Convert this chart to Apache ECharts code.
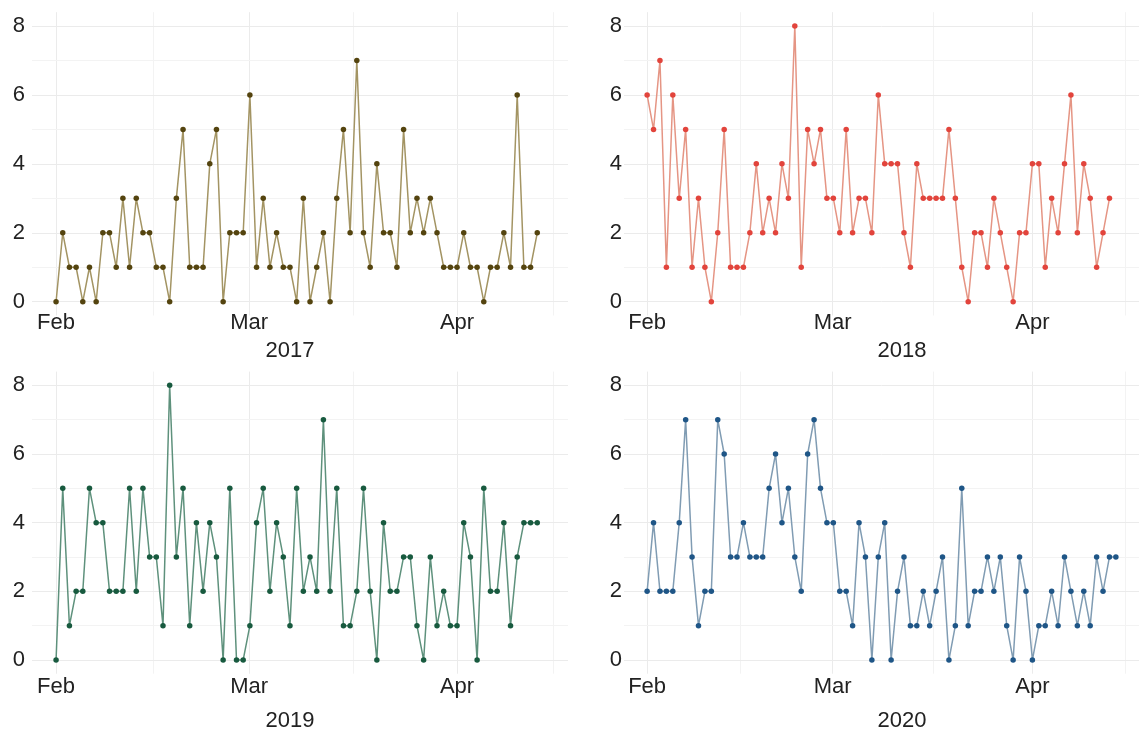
<!DOCTYPE html>
<html>
<head>
<meta charset="utf-8">
<script src="https://cdn.jsdelivr.net/npm/echarts@6/dist/echarts.min.js"></script>
<style>
html,body{margin:0;padding:0;background:#fff;}
#chart{width:1139px;height:731px;}
</style>
</head>
<body>
<div id="chart"></div>
<script>
// ---- data ----
const years = ['2017', '2018', '2019', '2020'];
const monthLabels = ['Feb', 'Mar', 'Apr'];
const monthPos = [0, 28.9, 60];
const minorPos = [14.5, 44.5, 74.4];
const yTickLabels = [0, 2, 4, 6, 8];
const yGridValues = [0, 1, 2, 3, 4, 5, 6, 7, 8];

const values2017 = [0,2,1,1,0,1,0,2,2,1, 3,1,3,2,2,1,1,0,3,5, 1,1,1,4,5,0,2,2,2,6, 1,3,1,2,1,1,0,3,0,1, 2,0,3,5,2,7,2,1,4,2, 2,1,5,2,3,2,3,2,1,1, 1,2,1,1,0,1,1,2,1,6, 1,1,2];
const values2018 = [6,5,7,1,6,3,5,1,3,1, 0,2,5,1,1,1,2,4,2,3, 2,4,3,8,1,5,4,5,3,3, 2,5,2,3,3,2,6,4,4,4, 2,1,4,3,3,3,3,5,3,1, 0,2,2,1,3,2,1,0,2,2, 4,4,1,3,2,4,6,2,4,3, 1,2,3];
const values2019 = [0,5,1,2,2,5,4,4,2,2, 2,5,2,5,3,3,1,8,3,5, 1,4,2,4,3,0,5,0,0,1, 4,5,2,4,3,1,5,2,3,2, 7,2,5,1,1,2,5,2,0,4, 2,2,3,3,1,0,3,1,2,1, 1,4,3,0,5,2,2,4,1,3, 4,4,4];
const values2020 = [2,4,2,2,2,4,7,3,1,2, 2,7,6,3,3,4,3,3,3,5, 6,4,5,3,2,6,7,5,4,4, 2,2,1,4,3,0,3,4,0,2, 3,1,1,2,1,2,3,0,1,5, 1,2,2,3,2,3,1,0,3,2, 0,1,1,2,1,3,2,1,2,1, 3,2,3,3];

const allValues = [values2017, values2018, values2019, values2020];

// ---- styling / layout ----
const lineColors = ['#a39463', '#e59584', '#5e917c', '#809cb3'];
const dotColors = ['#54440f', '#e2443c', '#185a3f', '#1f5687'];
const panelGrids = [
  {left: 32, top: 12.2, width: 536, height: 303.3},
  {left: 624, top: 12.2, width: 536, height: 303.3},
  {left: 32, top: 371.6, width: 536, height: 302.1},
  {left: 624, top: 371.6, width: 536, height: 302.1}
];
const xLabelMargins = [-4, -4, 2, 2];
const yLabelMargins = [7, 2, 7, 2];
const titlePos = [[290, 351], [902, 351], [290, 721], [902, 721]];
const textColor = '#222222';
const fontFamily = 'Liberation Sans, Arial, sans-serif';

const grids = [], xAxes = [], yAxes = [], series = [], graphics = [];

years.forEach((yr, i) => {
  grids.push(Object.assign({containLabel: false}, panelGrids[i]));
  xAxes.push({
    type: 'value', gridIndex: i, min: -3.6, max: 76.6,
    axisLine: {show: false}, axisTick: {show: false}, splitLine: {show: false},
    axisLabel: {
      customValues: monthPos,
      formatter: v => monthLabels[monthPos.indexOf(v)] || '',
      color: textColor, fontSize: 22, fontFamily: fontFamily,
      margin: xLabelMargins[i]
    }
  });
  yAxes.push({
    type: 'value', gridIndex: i, min: -0.4, max: 8.4,
    axisLine: {show: false}, axisTick: {show: false}, splitLine: {show: false},
    axisLabel: {
      customValues: yTickLabels,
      formatter: v => String(v),
      color: textColor, fontSize: 22, fontFamily: fontFamily,
      margin: yLabelMargins[i]
    }
  });
  const gridLineData = []
    .concat(monthPos.map(v => ({xAxis: v, lineStyle: {color: '#ebebeb'}})))
    .concat(minorPos.map(v => ({xAxis: v, lineStyle: {color: '#f3f3f3'}})))
    .concat(yGridValues.map(v => ({yAxis: v, lineStyle: {color: v % 2 ? '#f3f3f3' : '#ebebeb'}})));
  series.push({
    type: 'line', xAxisIndex: i, yAxisIndex: i, data: [], z: 1, silent: true,
    markLine: {
      silent: true, symbol: 'none', animation: false, z: 1,
      label: {show: false},
      lineStyle: {type: 'solid', width: 1},
      data: gridLineData
    }
  });
  series.push({
    type: 'line', xAxisIndex: i, yAxisIndex: i, z: 3,
    data: allValues[i].map((v, k) => [k, v]),
    symbol: 'circle', symbolSize: 5.5, showSymbol: true,
    lineStyle: {color: lineColors[i], width: 1.5},
    itemStyle: {color: dotColors[i]},
    animation: false
  });
  graphics.push({
    type: 'text', x: titlePos[i][0], y: titlePos[i][1],
    style: {text: yr, fill: textColor, font: '22px ' + fontFamily, textAlign: 'center', textVerticalAlign: 'middle'}
  });
});

const chart = echarts.init(document.getElementById('chart'), null, {renderer: 'canvas'});
chart.setOption({
  backgroundColor: '#ffffff',
  animation: false,
  grid: grids, xAxis: xAxes, yAxis: yAxes, series: series,
  graphic: graphics
});
</script>
</body>
</html>
